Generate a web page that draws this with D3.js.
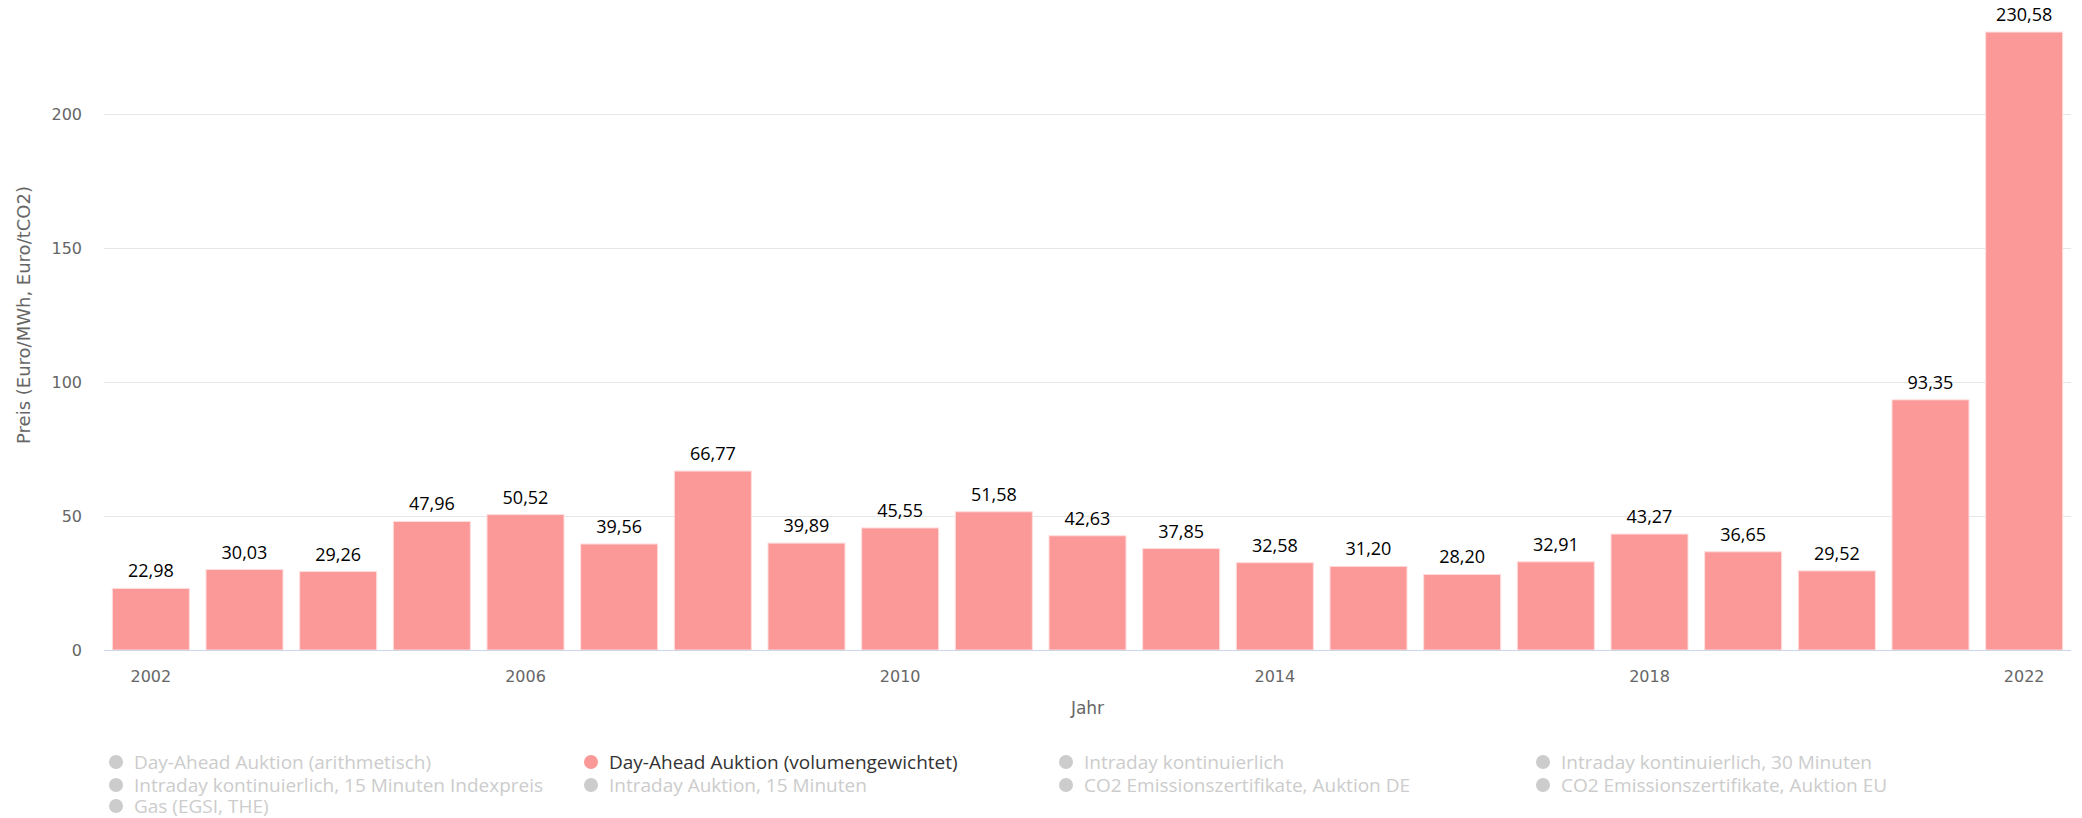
<!DOCTYPE html>
<html>
<head>
<meta charset="utf-8">
<script src="https://cdn.jsdelivr.net/npm/d3@7"></script>
<style>
  html, body { margin: 0; padding: 0; background: #fff; }
  svg { display: block; }
</style>
</head>
<body>
<svg id="chart" width="2082" height="818"></svg>
<script>
// ---- data ----
const years = ["2002","2003","2004","2005","2006","2007","2008","2009","2010","2011","2012","2013","2014","2015","2016","2017","2018","2019","2020","2021","2022"];
const prices = [22.98,30.03,29.26,47.96,50.52,39.56,66.77,39.89,45.55,51.58,42.63,37.85,32.58,31.20,28.20,32.91,43.27,36.65,29.52,93.35,230.58];
const yTicks = [0,50,100,150,200];
const xTickLabels = ["2002","2006","2010","2014","2018","2022"];
const yTitle = "Preis (Euro/MWh, Euro/tCO2)";
const xTitle = "Jahr";
const legendItems = [
  "Day-Ahead Auktion (arithmetisch)",
  "Day-Ahead Auktion (volumengewichtet)",
  "Intraday kontinuierlich",
  "Intraday kontinuierlich, 30 Minuten",
  "Intraday kontinuierlich, 15 Minuten Indexpreis",
  "Intraday Auktion, 15 Minuten",
  "CO2 Emissionszertifikate, Auktion DE",
  "CO2 Emissionszertifikate, Auktion EU",
  "Gas (EGSI, THE)"
];
const activeLegend = "Day-Ahead Auktion (volumengewichtet)";

// ---- layout ----
const plotLeft = 104, plotRight = 2071, plotBottom = 650, y200 = 114;
const barColor = "#fb9999";
const svg = d3.select("#chart");

const x = d3.scaleBand().domain(years).range([plotLeft, plotRight]).paddingInner(0.178).paddingOuter(0.089);
const y = d3.scaleLinear().domain([0, 200]).range([plotBottom, y200]);

// gridlines
const yAxis = d3.axisLeft(y).tickValues(yTicks).tickSize(-(plotRight - plotLeft)).tickPadding(22).tickFormat(d3.format("d"));
const gy = svg.append("g").attr("transform", `translate(${plotLeft},0)`).call(yAxis);
gy.select(".domain").remove();
gy.selectAll(".tick line").attr("stroke", "#e6e6e6").attr("stroke-width", 1);
gy.selectAll(".tick text").attr("fill", "#666").attr("font-family", "DejaVu Sans").attr("font-size", 16).attr("dy", "0.35em");

// bars
svg.append("g").selectAll("rect").data(years).join("rect")
  .attr("x", d => x(d))
  .attr("width", x.bandwidth())
  .attr("y", (d, i) => y(prices[i]))
  .attr("height", (d, i) => y(0) - y(prices[i]))
  .attr("fill", barColor)
  .attr("stroke", "#fdd")
  .attr("stroke-width", 1);

// data labels
const fmt = v => v.toFixed(2).replace(".", ",");
svg.append("g").selectAll("text").data(years).join("text")
  .attr("x", d => x(d) + x.bandwidth() / 2)
  .attr("y", (d, i) => y(prices[i]) - 11)
  .attr("text-anchor", "middle")
  .attr("font-family", "Open Sans")
  .attr("font-weight", 500)
  .attr("font-size", 18)
  .attr("fill", "#000")
  .text((d, i) => fmt(prices[i]));

// x axis
const xAxis = d3.axisBottom(x).tickValues(xTickLabels).tickSize(0).tickPadding(21);
const gx = svg.append("g").attr("transform", `translate(0,${plotBottom})`).call(xAxis);
gx.select(".domain").attr("stroke", "#ccd6eb").attr("stroke-width", 1).attr("d", `M${plotLeft},0.5H${plotRight}`);
gx.selectAll(".tick text").attr("fill", "#666").attr("font-family", "DejaVu Sans").attr("font-size", 16);

// axis titles
svg.append("text")
  .attr("transform", `translate(30,315) rotate(-90)`)
  .attr("text-anchor", "middle")
  .attr("font-family", "DejaVu Sans").attr("font-size", 18).attr("fill", "#666")
  .text(yTitle);
svg.append("text")
  .attr("x", (plotLeft + plotRight) / 2).attr("y", 714)
  .attr("text-anchor", "middle")
  .attr("font-family", "DejaVu Sans").attr("font-size", 17).attr("fill", "#666")
  .text(xTitle);

// legend
const colX = [116, 591, 1066, 1543];
const rowY = [762, 785, 806];
const lg = svg.append("g").selectAll("g").data(legendItems).join("g")
  .attr("transform", (d, i) => `translate(${colX[i % 4]},${rowY[Math.floor(i / 4)]})`);
lg.append("circle").attr("r", 7).attr("fill", d => d === activeLegend ? barColor : "#ccc");
lg.append("text").attr("x", 18).attr("dy", "0.35em")
  .attr("font-family", "Open Sans").attr("font-size", 19)
  .attr("fill", d => d === activeLegend ? "#333" : "#ccc")
  .text(d => d);
</script>
</body>
</html>
